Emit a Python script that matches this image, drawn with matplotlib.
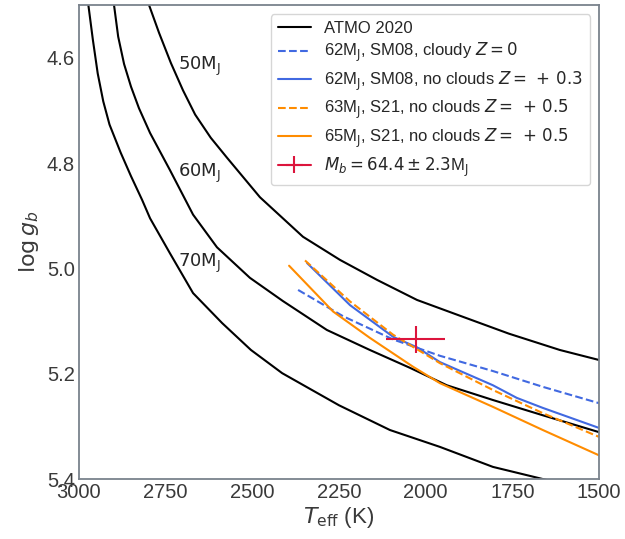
import matplotlib
matplotlib.use('Agg')
import matplotlib.pyplot as plt
import seaborn as sns

sns.set_style('white')
plt.rcParams['font.family'] = ['Liberation Sans', 'DejaVu Sans']
plt.rcParams['mathtext.fontset'] = 'dejavusans'

# ATMO 2020 isochrones (Teff [K], log g)
atmo_50_T = [2798, 2769, 2735, 2700, 2665, 2620, 2573, 2478, 2354, 2247, 2140, 2025, 1901, 1760, 1613, 1500]
atmo_50_g = [4.50, 4.553, 4.610, 4.662, 4.708, 4.752, 4.790, 4.865, 4.940, 4.984, 5.022, 5.060, 5.090, 5.124, 5.155, 5.174]

atmo_60_T = [2899, 2887, 2870, 2850, 2827, 2795, 2738, 2671, 2602, 2507, 2412, 2285, 2161, 2045, 1939, 1806, 1662, 1500]
atmo_60_g = [4.50, 4.560, 4.612, 4.655, 4.696, 4.743, 4.813, 4.898, 4.960, 5.018, 5.062, 5.117, 5.155, 5.189, 5.222, 5.250, 5.279, 5.311]

atmo_70_T = [2973, 2960, 2946, 2930, 2912, 2880, 2850, 2818, 2795, 2738, 2671, 2587, 2504, 2414, 2328, 2250, 2103, 1959, 1806, 1650, 1600]
atmo_70_g = [4.50, 4.566, 4.630, 4.683, 4.727, 4.780, 4.825, 4.870, 4.905, 4.971, 5.047, 5.104, 5.155, 5.199, 5.231, 5.260, 5.307, 5.339, 5.377, 5.402, 5.41]

# evolutionary tracks
sm08_cloudy_T = [2368, 2238, 2094, 1959, 1806, 1662, 1500]
sm08_cloudy_g = [5.041, 5.091, 5.135, 5.166, 5.195, 5.225, 5.256]

sm08_clear_T = [2342, 2218, 2094, 2025, 1959, 1806, 1737, 1662, 1500]
sm08_clear_g = [4.990, 5.070, 5.130, 5.150, 5.178, 5.222, 5.246, 5.265, 5.303]

s21_63_T = [2348, 2218, 2094, 1959, 1806, 1662, 1500]
s21_63_g = [4.985, 5.063, 5.126, 5.180, 5.231, 5.275, 5.320]

s21_65_T = [2394, 2267, 2161, 2036, 1959, 1806, 1662, 1500]
s21_65_g = [4.995, 5.082, 5.132, 5.187, 5.218, 5.263, 5.307, 5.355]

# measured companion
Tb, Tb_err = 2028, 85
gb, gb_err = 5.135, 0.025

mass_labels = [r'$\mathrm{50M_J}$', r'$\mathrm{60M_J}$', r'$\mathrm{70M_J}$']
label_T = [2714, 2714, 2714]
label_g = [4.617, 4.819, 4.990]

fig = plt.figure(figsize=(6.25, 5.39), dpi=100)
ax = fig.add_axes([0.1264, 0.1113, 0.832, 0.8794])

ax.plot(atmo_50_T, atmo_50_g, color='k', lw=1.5, label='ATMO 2020')
ax.plot(atmo_60_T, atmo_60_g, color='k', lw=1.5)
ax.plot(atmo_70_T, atmo_70_g, color='k', lw=1.5)

ax.plot(sm08_cloudy_T, sm08_cloudy_g, color='royalblue', ls='--', lw=1.5,
        label=r'62M$_\mathrm{J}$, SM08, cloudy $Z=0$')
ax.plot(sm08_clear_T, sm08_clear_g, color='royalblue', lw=1.5,
        label=r'62M$_\mathrm{J}$, SM08, no clouds $Z=\,+\,0.3$')
ax.plot(s21_63_T, s21_63_g, color='darkorange', ls='--', lw=1.5,
        label=r'63M$_\mathrm{J}$, S21, no clouds $Z=\,+\,0.5$')
ax.plot(s21_65_T, s21_65_g, color='darkorange', lw=1.5,
        label=r'65M$_\mathrm{J}$, S21, no clouds $Z=\,+\,0.5$')

ax.errorbar(Tb, gb, xerr=Tb_err, yerr=gb_err, color='crimson', elinewidth=1.5, lw=1.5,
            label=r'$M_b=64.4\pm2.3$M$_\mathrm{J}$', zorder=5)

for txt, t, g in zip(mass_labels, label_T, label_g):
    ax.text(t, g, txt, fontsize=13, ha='left', va='center')

ax.set_xlim(3000, 1500)
ax.set_ylim(5.4, 4.5)
ax.set_xticks([3000, 2750, 2500, 2250, 2000, 1750, 1500])
ax.set_yticks([4.6, 4.8, 5.0, 5.2, 5.4])
ax.tick_params(labelsize=14.5, colors='#3a3a3a', length=0, pad=3)
ax.set_xlabel(r'$T_\mathrm{eff}$ (K)', fontsize=16, color='#3a3a3a', labelpad=2)
ax.set_ylabel(r'$\log g_b$', fontsize=16, color='#3a3a3a', labelpad=4)
for s in ax.spines.values():
    s.set_color('#7a828c')
    s.set_linewidth(1.3)

ax.legend(loc='upper right', fontsize=12, frameon=True, borderaxespad=0.55,
          labelspacing=0.32)

fig.savefig('out.png', dpi=100)
